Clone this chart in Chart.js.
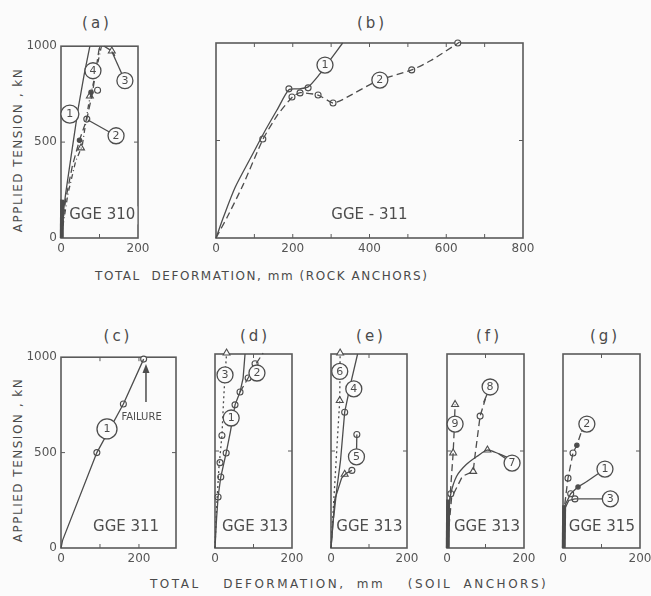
<!DOCTYPE html>
<html lang="en">
<head>
<meta charset="UTF-8">
<title>Anchor load tests</title>
<script src="https://cdn.jsdelivr.net/npm/chart.js"></script>
<style>
  body { margin:0; background:#fbfbfb; font-family:"DejaVu Sans", sans-serif; color:#4a4a4a; }
  #page { position:relative; width:651px; height:596px; overflow:hidden; }
  .panel { position:absolute; }
  .lbl { position:absolute; white-space:nowrap; }
  .title { font-size:15px; letter-spacing:3px; transform:translate(-50%,-50%); }
  .ytitle { font-size:12px; letter-spacing:1.5px; transform:translate(-50%,-50%) rotate(-90deg); }
  .xtitle { font-size:12px; letter-spacing:1.55px; transform:translateY(-50%); }
</style>
</head>
<body>
<div id="page">
  <div class="lbl title" style="left:97px;top:23px">(a)</div>
  <div class="lbl title" style="left:372px;top:23px">(b)</div>
  <div class="lbl title" style="left:118px;top:336px">(c)</div>
  <div class="lbl title" style="left:255px;top:336px">(d)</div>
  <div class="lbl title" style="left:371px;top:336px">(e)</div>
  <div class="lbl title" style="left:489px;top:336px">(f)</div>
  <div class="lbl title" style="left:605px;top:336px">(g)</div>

  <div class="lbl ytitle" style="left:18px;top:150px">APPLIED TENSION , kN</div>
  <div class="lbl ytitle" style="left:18px;top:460px">APPLIED TENSION , kN</div>
  <div class="lbl xtitle" style="left:95px;top:276px">TOTAL &nbsp;DEFORMATION, mm (ROCK ANCHORS)</div>
  <div class="lbl xtitle" style="left:150px;top:584px;letter-spacing:2.5px;word-spacing:5px">TOTAL &nbsp;DEFORMATION, mm &nbsp;(SOIL ANCHORS)</div>
</div>

<script>
// ---- data: deformation (mm) vs applied tension (kN) ----
var yTicks = [0, 500, 1000];
var xTicksNarrow = [0, 200];
var xTicksWide = [0, 200, 400, 600, 800];

// (a) GGE 310
var a1 = [[0,0],[4,100],[12,230],[28,450],[45,680],[60,850],[75,1000]];
var a2 = [[0,0],[12,200],[30,380],[48,510],[67,620],[82,760],[100,1000]];
var a4 = [[0,0],[18,230],[38,400],[55,480],[72,700],[80,770],[92,880],[105,1000]];
var a3 = [[112,1000],[132,975],[140,950]];
var aDots = [[48,510],[78,760]];
var aOpen = [[67,620],[95,770]];
var aTri = [[52,470],[75,740],[132,975]];
var aBase = [[2,0],[3,200]];

// (b) GGE-311
var b1 = [[0,0],[20,110],[50,260],[90,410],[125,540],[160,660],[190,760],[215,765],[240,775],[270,840],[300,920],[330,1000]];
var b2 = [[0,0],[30,110],[70,270],[122,505],[160,630],[200,725],[220,745],[266,733],[305,692],[330,710],[420,805],[510,862],[560,910],[635,1005]];
var bOpen = [[190,765],[198,723],[219,744],[240,770],[266,733],[305,692],[122,508],[510,862],[630,1000]];

// (c) GGE 311
var c1 = [[0,0],[4,40],[92,500],[160,755],[212,990]];
var cOpen = [[92,500],[160,755],[212,990]];

// (d) GGE 313
var d1 = [[0,0],[4,150],[8,263],[15,366],[29,490],[40,600],[52,738],[65,804],[73,876],[78,1000]];
var d2 = [[65,804],[86,876],[100,930],[125,1005]];
var d3 = [[0,0],[4,200],[10,410],[18,580],[22,750],[26,890],[30,1000]];
var dOpen = [[8,263],[15,366],[29,490],[52,738],[65,804],[86,876],[104,950],[18,580],[13,440]];
var dTri = [[30,1005]];

// (e) GGE 313
var e4 = [[0,0],[5,120],[15,300],[25,450],[36,700],[52,850],[70,1000]];
var e6 = [[0,0],[6,200],[12,400],[18,600],[23,760],[24,1000]];
var e5 = [[0,0],[10,250],[28,360],[40,385],[55,400]];
var eOpen = [[36,700],[68,585],[55,400]];
var eTri = [[23,760],[36,380],[24,1005]];

// (f) GGE 313
var f7 = [[0,0],[4,180],[10,280],[25,370],[50,430],[80,475],[105,505],[135,485],[160,465]];
var f8 = [[0,0],[12,260],[40,370],[68,395],[73,480],[86,680],[100,770]];
var f9 = [[0,0],[6,200],[12,380],[16,490],[19,620],[21,740]];
var fTri = [[16,490],[21,740],[68,395],[105,505]];
var fOpen = [[86,680],[10,280]];
var fBase = [[2,0],[3,250]];

// (g) GGE 315
var g2 = [[0,0],[3,200],[13,360],[26,490],[36,530],[48,600]];
var g1 = [[0,0],[5,220],[20,280],[39,315],[60,340]];
var g3 = [[0,0],[4,200],[15,245],[31,253],[40,253]];
var gOpen = [[13,360],[26,490],[20,280],[31,253]];
var gDots = [[39,315],[36,530]];
var gBase = [[2,0],[3,220]];

var INK = '#4d4d4d';
var PAPER = '#fbfbfb';
var FONT = '"DejaVu Sans", sans-serif';

function xy(pts) { return pts.map(function (p) { return {x: p[0], y: p[1]}; }); }

function line(pts, dash, w, tension) {
  return { data: xy(pts), showLine: true, borderColor: INK, borderWidth: w || 1.3,
           borderDash: dash || [], pointRadius: 0, fill: false, clip: 10, tension: tension || 0 };
}
function marks(pts, style, filled) {
  return { data: xy(pts), showLine: false, pointStyle: style,
           pointRadius: style === 'triangle' ? 4 : (filled ? 2.2 : 3),
           backgroundColor: filled ? INK : PAPER, borderColor: INK, borderWidth: 1.1, clip: 10 };
}
var DASH = [7, 4], DOT = [2, 3];

// notes per canvas: circled numbers, texts, arrows, inner ticks
var notes = {};

var notesPlugin = {
  id: 'notes',
  beforeDatasetsDraw: function (chart) {
    var ctx = chart.ctx, a = chart.chartArea, n = notes[chart.canvas.id];
    var sx = chart.scales.x, sy = chart.scales.y;
    ctx.save();
    ctx.strokeStyle = '#5a5a5a';
    ctx.lineWidth = 1.6;
    ctx.strokeRect(a.left, a.top, a.right - a.left, a.bottom - a.top);
    ctx.lineWidth = 1;
    (n.minorX || []).forEach(function (v) {
      var px = sx.getPixelForValue(v);
      ctx.beginPath();
      ctx.moveTo(px, a.bottom); ctx.lineTo(px, a.bottom - 4);
      ctx.moveTo(px, a.top); ctx.lineTo(px, a.top + 4);
      ctx.stroke();
    });
    (n.minorY || []).forEach(function (v) {
      var py = sy.getPixelForValue(v);
      ctx.beginPath();
      ctx.moveTo(a.left, py); ctx.lineTo(a.left + 4, py);
      ctx.moveTo(a.right, py); ctx.lineTo(a.right - 4, py);
      ctx.stroke();
    });
    ctx.restore();
  },
  afterDatasetsDraw: function (chart) {
    var ctx = chart.ctx, n = notes[chart.canvas.id];
    var sx = chart.scales.x, sy = chart.scales.y;
    ctx.save();
    (n.texts || []).forEach(function (t) {
      var px = sx.getPixelForValue(t.x), py = sy.getPixelForValue(t.y);
      ctx.font = (t.size || 15) + 'px ' + FONT;
      ctx.textAlign = t.align || 'center';
      ctx.textBaseline = 'middle';
      if (t.bg) {
        var w = ctx.measureText(t.t).width;
        var x0 = t.align === 'left' ? px : px - w / 2;
        ctx.fillStyle = PAPER;
        ctx.fillRect(x0 - 2, py - t.size * 0.6, w + 4, t.size * 1.2);
      }
      ctx.fillStyle = INK;
      ctx.fillText(t.t, px, py);
    });
    (n.arrows || []).forEach(function (r) {
      var px = sx.getPixelForValue(r.x), p0 = sy.getPixelForValue(r.y0), p1 = sy.getPixelForValue(r.y1);
      ctx.strokeStyle = INK; ctx.fillStyle = INK; ctx.lineWidth = 1.5;
      ctx.beginPath(); ctx.moveTo(px, p0); ctx.lineTo(px, p1 + 6); ctx.stroke();
      ctx.beginPath(); ctx.moveTo(px, p1); ctx.lineTo(px - 3.5, p1 + 9); ctx.lineTo(px + 3.5, p1 + 9); ctx.closePath(); ctx.fill();
    });
    (n.circles || []).forEach(function (c) {
      var px = sx.getPixelForValue(c.x), py = sy.getPixelForValue(c.y);
      ctx.strokeStyle = INK; ctx.lineWidth = 1.3;
      if (c.to) {
        ctx.beginPath();
        ctx.moveTo(sx.getPixelForValue(c.to[0]), sy.getPixelForValue(c.to[1]));
        ctx.lineTo(px, py);
        ctx.stroke();
      }
      ctx.beginPath();
      ctx.arc(px, py, c.r || 8, 0, Math.PI * 2);
      ctx.fillStyle = PAPER; ctx.fill(); ctx.stroke();
      ctx.fillStyle = INK;
      ctx.font = '11px ' + FONT;
      ctx.textAlign = 'center'; ctx.textBaseline = 'middle';
      ctx.fillText(c.n, px, py + 0.5);
    });
    ctx.restore();
  }
};
Chart.register(notesPlugin);

function panel(id, rect, xMax, xTicks, showY, datasets, note) {
  var padL = showY ? 50 : 8, padT = 8, padR = 16, padB = 24;
  var box = document.createElement('div');
  box.className = 'panel';
  box.style.left = (rect.l - padL) + 'px';
  box.style.top = (rect.t - padT) + 'px';
  var cv = document.createElement('canvas');
  cv.id = id;
  cv.width = rect.r - rect.l + padL + padR;
  cv.height = rect.b - rect.t + padT + padB;
  box.appendChild(cv);
  document.getElementById('page').appendChild(box);
  notes[id] = note;

  var tickFont = { family: FONT, size: 12 };
  var plain = function (v) { return String(v); };
  new Chart(cv, {
    type: 'scatter',
    data: { datasets: datasets },
    options: {
      responsive: false,
      animation: false,
      events: [],
      layout: { padding: { top: padT, right: padR, left: 0, bottom: 0 } },
      plugins: { legend: { display: false }, tooltip: { enabled: false } },
      scales: {
        x: {
          type: 'linear', min: 0, max: xMax,
          grid: { display: false, drawTicks: false }, border: { display: false },
          ticks: { font: tickFont, color: '#555', padding: 4, maxRotation: 0, callback: plain },
          afterBuildTicks: function (s) { s.ticks = xTicks.map(function (v) { return {value: v}; }); },
          afterFit: function (s) { s.height = padB; }
        },
        y: {
          type: 'linear', min: 0, max: 1000,
          grid: { display: false, drawTicks: false }, border: { display: false },
          ticks: { display: showY, font: tickFont, color: '#555', padding: 4, callback: plain },
          afterBuildTicks: function (s) { s.ticks = yTicks.map(function (v) { return {value: v}; }); },
          afterFit: function (s) { s.width = padL; }
        }
      }
    }
  });
}

var GGE = function (t, x) { return { t: t, x: x, y: 108, size: 15, bg: true }; };

panel('pa', {l:61, t:43, r:138, b:238}, 200, xTicksNarrow, true, [
  line(a1), line(a2, DASH), line(a4, [5, 3, 1, 3]), line(a3, DASH), line(aBase, [], 4),
  marks(aDots, 'circle', true), marks(aOpen, 'circle'), marks(aTri, 'triangle')
], {
  minorX: [100], minorY: [500],
  texts: [{ t: 'GGE 310', x: 107, y: 118, size: 15, bg: true }],
  circles: [{n:'1', x:23, y:646, r:9}, {n:'2', x:143, y:533, to:[70,615]},
            {n:'3', x:166, y:820, to:[132,972]}, {n:'4', x:83, y:872}]
});

panel('pb', {l:216, t:43, r:523, b:238}, 800, xTicksWide, false, [
  line(b1, null, null, 0.25), line(b2, DASH, null, 0.2), marks(bOpen, 'circle')
], {
  minorX: [100, 200, 300, 400, 500, 600, 700], minorY: [500],
  texts: [{ t: 'GGE - 311', x: 400, y: 118, size: 15, bg: true }],
  circles: [{n:'1', x:284, y:887}, {n:'2', x:427, y:810}]
});

panel('pc', {l:61, t:354, r:176, b:548}, 295, xTicksNarrow, true, [
  line(c1), marks(cOpen, 'circle')
], {
  minorX: [100, 200], minorY: [500],
  texts: [GGE('GGE 311', 167), { t: 'FAILURE', x: 155, y: 686, size: 10, align: 'left' }],
  arrows: [{ x: 218, y0: 765, y1: 965 }],
  circles: [{n:'1', x:118, y:624, r:10}]
});

panel('pd', {l:215, t:354, r:292, b:548}, 200, xTicksNarrow, false, [
  line(d1), line(d2, DASH), line(d3, DOT), marks(dOpen, 'circle'), marks(dTri, 'triangle')
], {
  minorX: [100], minorY: [500],
  texts: [GGE('GGE 313', 104)],
  circles: [{n:'1', x:42, y:670}, {n:'2', x:109, y:902}, {n:'3', x:26, y:892}]
});

panel('pe', {l:331, t:354, r:407, b:548}, 200, xTicksNarrow, false, [
  line(e4), line(e6, DOT), line(e5), marks(eOpen, 'circle'), marks(eTri, 'triangle')
], {
  minorX: [100], minorY: [500],
  texts: [GGE('GGE 313', 101)],
  circles: [{n:'4', x:60, y:820}, {n:'6', x:23, y:910}, {n:'5', x:67, y:470, to:[68,585]}]
});

panel('pf', {l:447, t:354, r:524, b:548}, 200, xTicksNarrow, false, [
  line(f7, null, null, 0.3), line(f8, DASH), line(f9, DASH), line(fBase, [], 4),
  marks(fTri, 'triangle'), marks(fOpen, 'circle')
], {
  minorX: [100], minorY: [500],
  texts: [GGE('GGE 313', 104)],
  circles: [{n:'7', x:169, y:438, to:[135,485]}, {n:'8', x:112, y:830, to:[95,750]}, {n:'9', x:21, y:639}]
});

panel('pg', {l:563, t:354, r:640, b:548}, 200, xTicksNarrow, false, [
  line(g2, DASH), line(g1), line(g3), line(gBase, [], 4),
  marks(gOpen, 'circle'), marks(gDots, 'circle', true)
], {
  minorX: [100], minorY: [500],
  texts: [GGE('GGE 315', 101)],
  circles: [{n:'2', x:62, y:639, to:[48,600]}, {n:'1', x:109, y:407, to:[60,340]}, {n:'3', x:123, y:253, to:[40,253]}]
});
</script>
</body>
</html>
